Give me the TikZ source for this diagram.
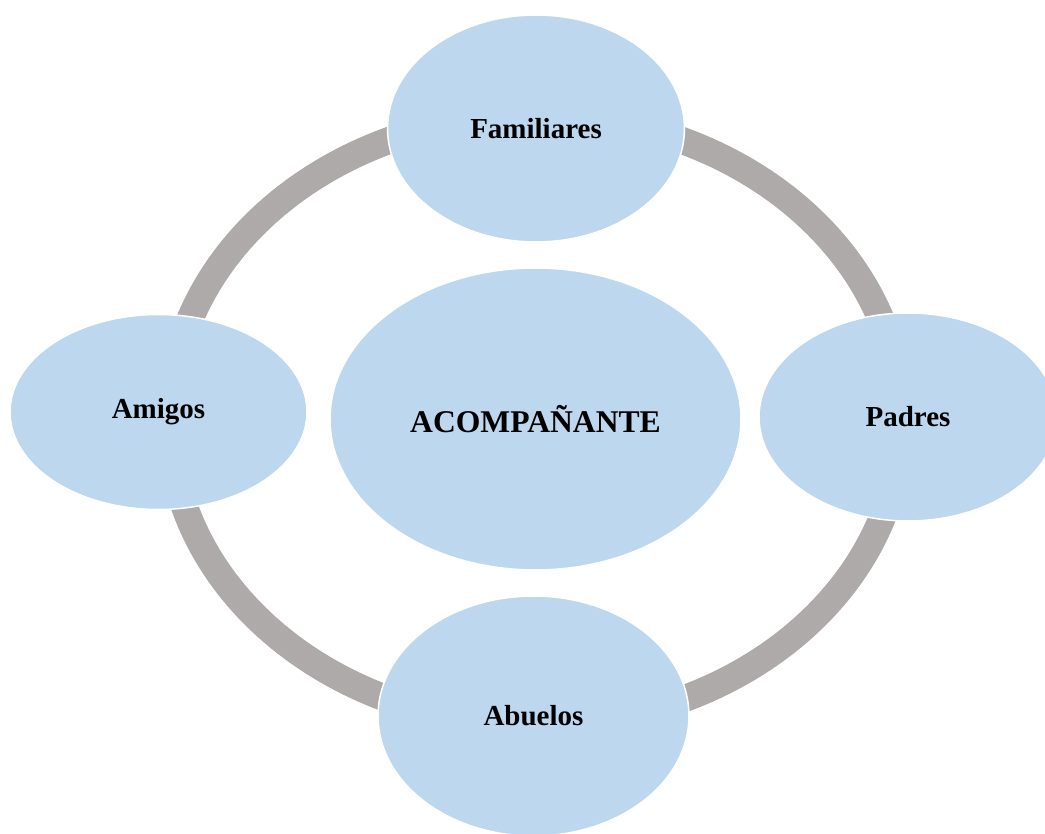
\documentclass[tikz,border=0pt]{standalone}
\usepackage{fontspec}
\setmainfont{Liberation Serif}
\usepackage{tikz}
\usetikzlibrary{shapes.geometric}
\definecolor{bubblefill}{HTML}{BDD7EE}
\definecolor{ringgray}{HTML}{AEAAAA}
\tikzset{bubble/.style={ellipse,fill=bubblefill,draw=white,line width=0.03cm,inner sep=0pt,
    font=\bfseries\fontsize{16.5}{19}\selectfont}}
\tikzset{ring/.style={draw=ringgray,line width=0.54cm}}
\newcommand{\bubblenode}{\node[bubble]}

\begin{document}
\begin{tikzpicture}[x=0.02cm,y=-0.02cm]
      \useasboundingbox (0,0) rectangle (1045,834);
      \clip (0,0) rectangle (1045,834);
      \bubblenode[minimum width=8.22cm,minimum height=6.04cm,
        font=\bfseries\fontsize{18}{21}\selectfont] (acomp) at (535.5,419) {ACOMPAÑANTE}; % centre
      %%%% the grey ring round the centre
      \draw[ring] (acomp.center) ++(0,1) ellipse [x radius=7.32cm,y radius=6.1cm];
      %%%% the four bubbles on the ring
      \bubblenode[minimum width=5.94cm,minimum height=4.54cm] (famil) at (536,128.5) {Familiares}; % top
      \bubblenode[minimum width=5.96cm,minimum height=4.16cm] (padres) at (908,417) {Padres}; % right
      \bubblenode[minimum width=6.22cm,minimum height=4.8cm] (abuelos) at (533.5,716) {Abuelos}; % bottom
      \bubblenode[minimum width=5.94cm,minimum height=3.9cm] (amigos) at (158.5,412) {Amigos}; % left
    \end{tikzpicture}
\end{document}
